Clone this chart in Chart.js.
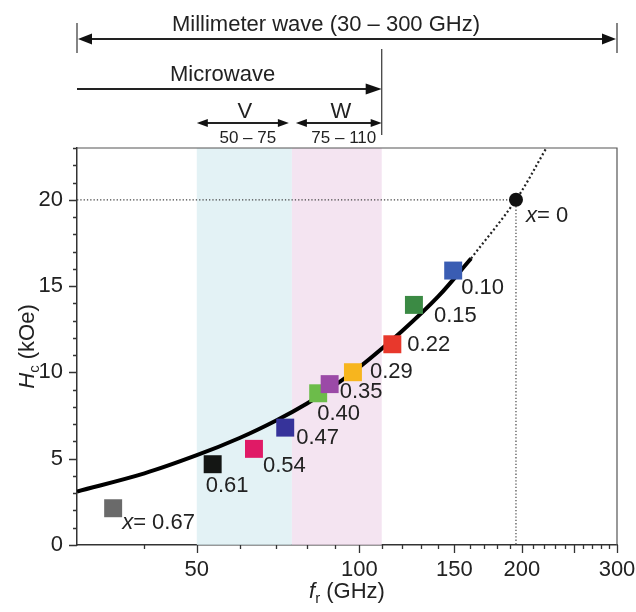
<!DOCTYPE html>
<html>
<head>
<meta charset="utf-8">
<script src="https://cdn.jsdelivr.net/npm/chart.js@4.4.1/dist/chart.umd.min.js"></script>
<style>
  html, body { margin: 0; padding: 0; background: #fff; }
  #wrap { width: 636px; height: 612px; }
</style>
</head>
<body>
<div id="wrap"><canvas id="hcChart"></canvas></div>
<script>
// substituted samples: label, resonance frequency (GHz), coercivity (kOe)
let sampleX = ['0.67', '0.61', '0.54', '0.47', '0.40', '0.35', '0.29', '0.22', '0.15', '0.10'];
let sampleFreq = [35.0, 53.5, 63.8, 72.9, 83.9, 88.1, 97.3, 115.1, 126.2, 149.2];
let sampleHc = [2.13, 4.68, 5.57, 6.80, 8.79, 9.32, 10.01, 11.63, 13.91, 15.9];
let sampleColors = ['#6a6a6a', '#141614', '#e01a66', '#36339a', '#6cbc4a', '#9b4aa7', '#f7b51e', '#e8382c', '#3b8a44', '#3a5db3'];

// unsubstituted point (x = 0)
let pureFreq = [195];
let pureHc = [20];

// fitted trend, solid part and dotted extrapolation
let fitFreq = [30, 40, 50, 60, 70, 80, 90, 100, 120, 140, 161];
let fitHc = [3.1, 4.15, 5.2, 6.2, 7.2, 8.2, 9.25, 10.3, 12.4, 14.4, 16.6];
let extFreq = [161, 195, 222];
let extHc = [16.6, 20, 23];

// frequency bands
let bandNames = ['V', 'W'];
let bandRanges = ['50 – 75', '75 – 110'];
let bandFrom = [50, 75];
let bandTo = [75, 110];
let bandColors = ['rgba(220, 239, 242, 0.8)', 'rgba(241, 221, 237, 0.8)'];

// axis ticks
let freqLabels = [50, 100, 150, 200, 300];
let freqMajor = [50, 100, 150, 200, 250, 300];
let hcLabels = [0, 5, 10, 15, 20];

// label placement next to each square (px from its centre)
let labelDx = [9, -7, 9, 11, -1, 10, 17, 15, 20, 8];
let labelDy = [15, 22, 17, 10, 21, 8, 0, 1, 11, 17];

const FONT = "'Liberation Sans', Arial, sans-serif";
const INK = '#222';

function pts(xs, ys) {
	return xs.map((x, i) => ({ x: x, y: ys[i] }));
}

// text made of runs with their own font and vertical shift
function drawRuns(ctx, runs, x, y, align) {
	let total = 0;
	runs.forEach(r => { ctx.font = r.font; r.w = ctx.measureText(r.t).width; total += r.w; });
	let cx = align === 'center' ? x - total / 2 : x;
	ctx.textAlign = 'left';
	runs.forEach(r => {
		ctx.font = r.font;
		ctx.fillText(r.t, cx, y + (r.dy || 0));
		cx += r.w;
	});
}

function arrowHead(ctx, x, y, dir, len, half) {
	ctx.beginPath();
	ctx.moveTo(x, y);
	ctx.lineTo(x - dir * len, y - half);
	ctx.lineTo(x - dir * len, y + half);
	ctx.closePath();
	ctx.fill();
}

const bandPlugin = {
	id: 'bands',
	beforeDatasetsDraw(chart) {
		const { ctx, chartArea: a, scales: { x } } = chart;
		ctx.save();
		bandFrom.forEach((f, i) => {
			const x0 = x.getPixelForValue(f), x1 = x.getPixelForValue(bandTo[i]);
			ctx.fillStyle = bandColors[i];
			ctx.fillRect(x0, a.top, x1 - x0, a.bottom - a.top);
		});
		ctx.restore();
	}
};

const decorPlugin = {
	id: 'decor',
	afterDraw(chart) {
		const { ctx, chartArea: a, scales: { x, y } } = chart;
		ctx.save();

		// frame on top and right
		ctx.strokeStyle = '#555';
		ctx.lineWidth = 1.2;
		ctx.beginPath();
		ctx.moveTo(a.left, a.top);
		ctx.lineTo(a.right, a.top);
		ctx.lineTo(a.right, a.bottom);
		ctx.stroke();

		// tick marks, outward
		ctx.strokeStyle = '#333';
		ctx.lineWidth = 1.3;
		ctx.beginPath();
		for (let f = 40; f <= 300; f += 10) {
			const len = freqMajor.includes(f) ? 8 : 4;
			const px = Math.round(x.getPixelForValue(f)) + 0.5;
			ctx.moveTo(px, a.bottom);
			ctx.lineTo(px, a.bottom + len);
		}
		for (let h = 0; h <= 23; h++) {
			const len = h % 5 === 0 ? 8 : 4;
			const py = Math.round(y.getPixelForValue(h)) + 0.5;
			ctx.moveTo(a.left, py);
			ctx.lineTo(a.left - len, py);
		}
		ctx.stroke();

		// axis titles
		ctx.fillStyle = INK;
		ctx.textBaseline = 'alphabetic';
		drawRuns(ctx, [
			{ t: 'f', font: 'italic 22px ' + FONT },
			{ t: 'r', font: '15px ' + FONT, dy: 5 },
			{ t: ' (GHz)', font: '22px ' + FONT }
		], (a.left + a.right) / 2, 598, 'center');

		ctx.save();
		ctx.translate(27, (a.top + a.bottom) / 2);
		ctx.rotate(-Math.PI / 2);
		drawRuns(ctx, [
			{ t: 'H', font: 'italic 22px ' + FONT },
			{ t: 'c', font: '15px ' + FONT, dy: 5 },
			{ t: ' (kOe)', font: '22px ' + FONT }
		], 0, 7, 'center');
		ctx.restore();

		// point labels
		ctx.textBaseline = 'middle';
		const sq = chart.getDatasetMeta(0).data;
		sq.forEach((el, i) => {
			const runs = i === 0
				? [{ t: 'x', font: 'italic 22px ' + FONT }, { t: '= ' + sampleX[i], font: '22px ' + FONT }]
				: [{ t: sampleX[i], font: '22px ' + FONT }];
			drawRuns(ctx, runs, el.x + labelDx[i], el.y + labelDy[i], 'left');
		});
		const dot = chart.getDatasetMeta(1).data[0];
		drawRuns(ctx, [
			{ t: 'x', font: 'italic 22px ' + FONT },
			{ t: '= 0', font: '22px ' + FONT }
		], dot.x + 10, dot.y + 16, 'left');

		// band annotations above the plot
		const xL = x.getPixelForValue(30), xR = x.getPixelForValue(300);
		const xMw = x.getPixelForValue(bandTo[1]);
		ctx.strokeStyle = '#222';
		ctx.fillStyle = '#111';

		ctx.lineWidth = 2.2;
		ctx.beginPath();
		ctx.moveTo(xL + 4, 39); ctx.lineTo(xR - 4, 39);
		ctx.moveTo(xL, 89); ctx.lineTo(xMw - 6, 89);
		ctx.stroke();
		arrowHead(ctx, xL + 1, 39, -1, 14, 5.5);
		arrowHead(ctx, xR - 1, 39, 1, 14, 5.5);
		arrowHead(ctx, xMw, 89, 1, 16, 5.5);

		ctx.strokeStyle = '#444';
		ctx.lineWidth = 1.3;
		ctx.beginPath();
		ctx.moveTo(xL, 23); ctx.lineTo(xL, 53);
		ctx.moveTo(xR, 23); ctx.lineTo(xR, 53);
		ctx.moveTo(xMw, 49); ctx.lineTo(xMw, 135);
		ctx.stroke();

		ctx.fillStyle = INK;
		ctx.textBaseline = 'alphabetic';
		ctx.textAlign = 'center';
		ctx.font = '22px ' + FONT;
		ctx.fillText('Millimeter wave (30 – 300 GHz)', (xL + xR) / 2 - 21, 31);
		ctx.textAlign = 'left';
		ctx.fillText('Microwave', xL + 93, 81);

		bandFrom.forEach((f, i) => {
			const x0 = x.getPixelForValue(f) + (i ? 4 : 0);
			const x1 = x.getPixelForValue(bandTo[i]) - (i ? 0 : 3);
			ctx.strokeStyle = '#222';
			ctx.fillStyle = '#111';
			ctx.lineWidth = 1.8;
			ctx.beginPath();
			ctx.moveTo(x0 + 4, 123); ctx.lineTo(x1 - 4, 123);
			ctx.stroke();
			arrowHead(ctx, x0, 123, -1, 11, 4);
			arrowHead(ctx, x1, 123, 1, 11, 4);
			ctx.fillStyle = INK;
			ctx.textAlign = 'center';
			ctx.font = '22px ' + FONT;
			ctx.fillText(bandNames[i], (x0 + x1) / 2 + 2, 118);
			ctx.font = '17px ' + FONT;
			ctx.fillText(bandRanges[i], (x0 + x1) / 2 + 5, 143);
		});

		ctx.restore();
	}
};

let chart = new Chart(document.getElementById('hcChart').getContext('2d'), {
	type: 'scatter',
	data: {
		datasets: [
			{
				label: 'samples',
				data: pts(sampleFreq, sampleHc),
				pointStyle: 'rect',
				pointRadius: 12.7,
				backgroundColor: sampleColors,
				borderWidth: 0,
				order: 1
			},
			{
				label: 'x = 0',
				data: pts(pureFreq, pureHc),
				pointStyle: 'circle',
				pointRadius: 7,
				backgroundColor: '#111',
				borderWidth: 0,
				order: 2
			},
			{
				label: 'fit',
				data: pts(fitFreq, fitHc),
				showLine: true,
				borderColor: '#000',
				borderWidth: 4,
				pointRadius: 0,
				tension: 0.35,
				order: 3
			},
			{
				label: 'fit extrapolated',
				data: pts(extFreq, extHc),
				showLine: true,
				borderColor: '#222',
				borderWidth: 2.2,
				borderDash: [2, 2.5],
				pointRadius: 0,
				tension: 0.35,
				order: 4
			},
			{
				label: 'guides',
				data: [{ x: 30, y: pureHc[0] }, { x: pureFreq[0], y: pureHc[0] }, { x: pureFreq[0], y: 0 }],
				showLine: true,
				borderColor: '#444',
				borderWidth: 1.2,
				borderDash: [1.3, 2],
				pointRadius: 0,
				order: 5
			}
		]
	},
	options: {
		responsive: true,
		maintainAspectRatio: false,
		animation: false,
		events: [],
		layout: { padding: { top: 148, right: 19, left: 0, bottom: 0 } },
		plugins: {
			legend: { display: false },
			tooltip: { enabled: false }
		},
		scales: {
			x: {
				type: 'logarithmic',
				min: 30,
				max: 300,
				afterFit(scale) {
					scale.height = 67;
					scale.paddingLeft = 0;
					scale.paddingRight = 0;
				},
				afterBuildTicks(scale) { scale.ticks = freqLabels.map(v => ({ value: v })); },
				grid: { display: false, drawTicks: false },
				border: { display: true, color: '#333', width: 1.5 },
				ticks: {
					autoSkip: false,
					maxRotation: 0,
					padding: 12,
					color: INK,
					font: { family: FONT, size: 22 },
					callback: v => freqLabels.includes(v) ? String(v) : ''
				}
			},
			y: {
				min: 0,
				max: 23,
				afterFit(scale) {
					scale.width = 77;
					scale.paddingTop = 0;
					scale.paddingBottom = 0;
				},
				afterBuildTicks(scale) { scale.ticks = hcLabels.map(v => ({ value: v })); },
				grid: { display: false, drawTicks: false },
				border: { display: true, color: '#333', width: 1.5 },
				ticks: {
					padding: 14,
					color: INK,
					font: { family: FONT, size: 22 }
				}
			}
		}
	},
	plugins: [bandPlugin, decorPlugin]
});
</script>
</body>
</html>
